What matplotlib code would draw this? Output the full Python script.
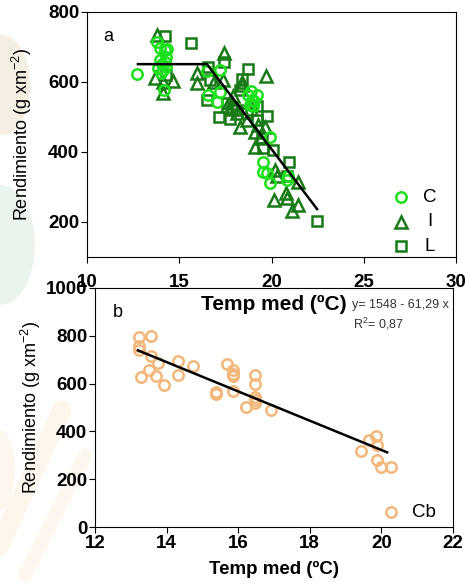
import matplotlib
matplotlib.use("Agg")
import matplotlib.pyplot as plt
from matplotlib.patches import Ellipse

# ---------------- data: panel a ----------------
c_temp = [12.73, 13.81, 13.96, 14.23, 14.35, 13.96, 14.23, 13.87, 14.28, 14.0, 14.14, 14.17,
          14.05, 14.3, 16.49, 17.21, 16.58, 17.06, 17.21, 18.74, 18.92, 19.2, 19.0, 18.83,
          18.9, 19.05, 19.92, 19.52, 19.52, 19.74, 19.92, 20.82, 20.91]
c_yield = [623, 715, 696, 691, 693, 663, 658, 639, 644, 627, 634, 577,
           650, 670, 630, 634, 563, 544, 572, 563, 549, 563, 530, 534,
           575, 545, 444, 372, 344, 341, 310, 320, 330]

i_temp = [13.81, 13.69, 14.14, 14.68, 14.14, 15.94, 15.94, 17.43, 17.39, 17.84, 18.29, 18.38,
          19.70, 19.10, 19.10, 19.65, 20.19, 20.14, 20.77, 20.86, 21.45, 21.45, 21.12, 17.57,
          18.11, 18.65, 19.29, 16.9, 18.4, 19.4, 20.3, 17.9]
i_yield = [734, 610, 601, 603, 568, 625, 596, 684, 606, 539, 472, 601,
           617, 458, 415, 472, 349, 263, 282, 268, 315, 249, 230, 530,
           510, 491, 477, 600, 590, 440, 330, 560]

l_temp = [14.23, 15.62, 16.58, 17.43, 18.74, 18.38, 16.52, 17.17, 17.75, 18.11, 18.29, 19.20,
          19.20, 19.74, 19.52, 20.06, 20.94, 20.82, 22.48, 16.67, 17.84, 18.65, 14.3, 17.6,
          18.9, 19.5]
l_yield = [731, 712, 644, 658, 637, 609, 549, 499, 493, 520, 577, 530,
           491, 503, 410, 406, 372, 330, 204, 606, 520, 510, 620, 540,
           520, 440]

# segmented fit (panel a)
fit_a_temp = [12.76, 16.5, 22.47]
fit_a_yield = [651, 651, 237]

# ---------------- data: panel b ----------------
cb_temp = [13.24, 13.24, 13.24, 13.56, 13.56, 13.75, 13.51, 13.28, 13.70, 13.94, 14.32, 14.33,
           14.75, 15.38, 15.38, 15.68, 15.86, 15.86, 15.85, 15.85, 16.21, 16.47, 16.47, 16.47,
           16.47, 16.47, 16.92, 19.42, 19.66, 19.85, 19.89, 19.89, 20.0, 20.26]
cb_yield = [795, 756, 739, 800, 714, 686, 655, 627, 630, 594, 694, 634,
            672, 557, 563, 683, 655, 641, 630, 570, 503, 638, 599, 546,
            518, 532, 489, 317, 365, 381, 345, 281, 253, 251]
fit_b_intercept = 1548
fit_b_slope = -61.29
fit_b_range = [13.2, 20.16]

C_COL = "#1de01d"
DK_COL = "#177a17"
CB_COL = "#f2b77a"

fig = plt.figure(figsize=(4.66, 5.84), dpi=100)
plt.rcParams['font.family'] = ['Liberation Sans', 'DejaVu Sans']
plt.rcParams['mathtext.fontset'] = 'custom'
plt.rcParams['mathtext.rm'] = 'Liberation Sans'
plt.rcParams['mathtext.it'] = 'Liberation Sans:italic'
plt.rcParams['mathtext.bf'] = 'Liberation Sans:bold'

TICK_FS = 13.5

# faint background watermark shapes
bg = fig.add_axes([0, 0, 1, 1], zorder=-10)
bg.set_xlim(0, 466); bg.set_ylim(584, 0); bg.axis('off')
bg.add_patch(Ellipse((2, 85), 56, 100, color="#f5eee3", lw=0))
bg.add_patch(Ellipse((0, 245), 70, 120, color="#eaf4ed", lw=0))
bg.plot([-5, 62], [555, 410], color="#fef6ec", lw=14, solid_capstyle='round')
bg.plot([25, 85], [575, 455], color="#fef7ef", lw=10, solid_capstyle='round')
bg.add_patch(Ellipse((0, 470), 30, 80, color="#fef7ef", lw=0))

# ---------------- panel a ----------------
axa = fig.add_axes([87/466, 1-257/584, (456-87)/466, (257-12)/584])
ms = 7.5
axa.plot(c_temp, c_yield, 'o', mfc='none', mec=C_COL, mew=1.8, ms=ms, zorder=3)
axa.plot(i_temp, i_yield, '^', mfc='none', mec=DK_COL, mew=1.8, ms=ms+0.5, zorder=2)
axa.plot(l_temp, l_yield, 's', mfc='none', mec=DK_COL, mew=1.8, ms=ms, zorder=2)
axa.plot(fit_a_temp, fit_a_yield, '-', color='black', lw=1.8, zorder=4)
axa.set_xlim(10, 30)
axa.set_ylim(100, 800)
axa.set_xticks([10, 15, 20, 25, 30])
axa.set_yticks([200, 400, 600, 800])
axa.tick_params(axis='x', length=4, pad=8, labelsize=TICK_FS)
axa.tick_params(axis='y', length=4, pad=1.5, labelsize=TICK_FS)
for t in axa.get_xticklabels() + axa.get_yticklabels():
    t.set_fontweight('bold')
axa.set_ylabel("Rendimiento (g xm$^{-2}$)", fontsize=13, labelpad=10)
axa.text(0.045, 0.88, "a", transform=axa.transAxes, fontsize=13)
axa.text(423, 173, "R$^2$= 0,78", transform=None, fontsize=9, color='#333333',
         ha='center', va='center')
# legend panel a
leg_x = 27.0
axa.plot([leg_x], [271], 'o', mfc='none', mec=C_COL, mew=1.8, ms=ms, clip_on=False)
axa.plot([leg_x], [200], '^', mfc='none', mec=DK_COL, mew=1.8, ms=ms + 0.5, clip_on=False)
axa.plot([leg_x], [131], 's', mfc='none', mec=DK_COL, mew=1.8, ms=ms, clip_on=False)
axa.text(28.6, 271, "C", fontsize=13.5, va='center', ha='center')
axa.text(28.6, 200, "I", fontsize=13.5, va='center', ha='center')
axa.text(28.6, 131, "L", fontsize=13.5, va='center', ha='center')

# x label of panel a (overlapping into panel b, as in reference)
fig.text(274/466, 1-304/584, "Temp med (ºC)", fontsize=15, fontweight='bold',
         ha='center', va='center', zorder=20)

# ---------------- panel b ----------------
axb = fig.add_axes([95/466, 1-527/584, (453-95)/466, (527-288)/584])
axb.plot(cb_temp, cb_yield, 'o', mfc='none', mec=CB_COL, mew=1.8, ms=ms)
fx = fit_b_range
fy = [fit_b_intercept + fit_b_slope * v for v in fx]
axb.plot(fx, fy, '-', color='black', lw=1.8)
axb.set_xlim(12, 22)
axb.set_ylim(0, 1000)
axb.set_xticks([12, 14, 16, 18, 20, 22])
axb.set_yticks([0, 200, 400, 600, 800, 1000])
axb.tick_params(axis='x', length=4, pad=1.5, labelsize=TICK_FS)
axb.tick_params(axis='y', length=4, pad=1.5, labelsize=TICK_FS)
for t in axb.get_xticklabels() + axb.get_yticklabels():
    t.set_fontweight('bold')
axb.set_xlabel("Temp med (ºC)", fontsize=13.5, fontweight='bold', labelpad=7)
axb.set_ylabel("Rendimiento (g xm$^{-2}$)", fontsize=13, labelpad=2)
axb.text(0.05, 0.88, "b", transform=axb.transAxes, fontsize=13)
fig.text(400/466, 1-305/584, "y= 1548 - 61,29 x", fontsize=9, color='#333333',
         ha='center', va='center', zorder=21)
fig.text(378/466, 1-324/584, "R$^2$= 0,87", fontsize=9, color='#333333',
         ha='center', va='center')
axb.plot([20.26], [61], 'o', mfc='none', mec=CB_COL, mew=1.8, ms=ms, clip_on=False)
axb.text(21.2, 61, "Cb", fontsize=13.5, va='center', ha='center')

fig.savefig("out.png", dpi=100)
